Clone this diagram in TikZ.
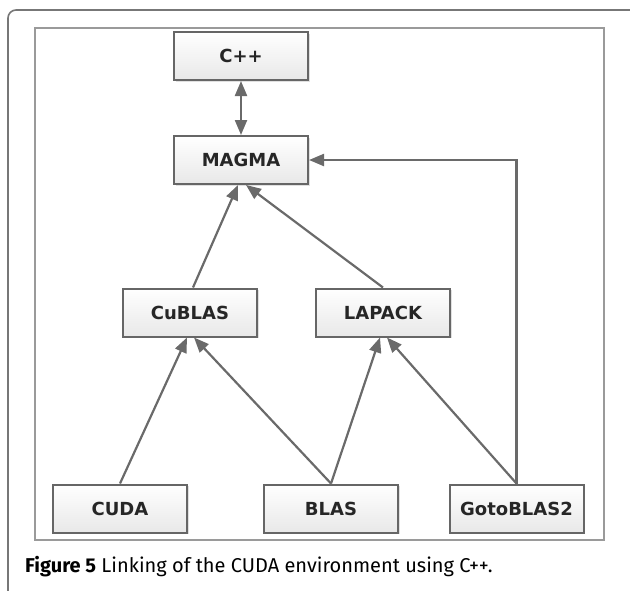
\documentclass[tikz,border=0pt]{standalone}
\usepackage{fontspec}
\setmainfont{DejaVu Sans}
\newfontfamily\capfont{Fira Sans}
\usetikzlibrary{arrows.meta,shadows}
\definecolor{boxline}{HTML}{666666}
\definecolor{arrline}{HTML}{6A6A6A}
\definecolor{frameline}{HTML}{9A9A9A}
\definecolor{outerline}{HTML}{777777}
\definecolor{boxbot}{HTML}{E8E8E8}
\tikzset{
  libbox/.style={draw=boxline, line width=2pt, top color=white, bottom color=boxbot,
    drop shadow={shadow xshift=1.5pt, shadow yshift=-1.5pt, fill=black!20, opacity=0.6},
    minimum width=134pt, minimum height=48pt, inner sep=0pt,
    font=\fontsize{18}{21}\selectfont\bfseries, text=black!85},
  arr/.style={draw=arrline, line width=2.2pt, -{Triangle[length=15pt,width=12pt]}},
  darr/.style={draw=arrline, line width=2.2pt, {Triangle[length=15pt,width=12pt]}-{Triangle[length=15pt,width=12pt]}}
}
\begin{document}
\begin{tikzpicture}[x=1pt,y=-1pt]
\useasboundingbox (0,0) rectangle (630,590);
% outer rounded frame
\draw[outerline, line width=1.6pt, rounded corners=8pt] (8,600) -- (8,10) -- (640,10);
% inner frame
\draw[frameline, line width=1.6pt] (35,28) rectangle (604,540);
% nodes
\node[libbox] (cpp) at (241,56) {C++};
\node[libbox] (magma) at (241,160) {MAGMA};
\node[libbox] (cublas) at (190,312.5) {CuBLAS};
\node[libbox] (lapack) at (383,312.5) {LAPACK};
\node[libbox] (cuda) at (120,508.5) {CUDA};
\node[libbox] (blas) at (331,508.5) {BLAS};
\node[libbox] (goto) at (516.5,508.5) {GotoBLAS2};
\coordinate (corner) at (goto.north |- magma.east);
% connectors
\draw[darr] (cpp.south) -- (magma.north);
\draw[arr] (goto.north) -- (corner) -- (magma.east);
\draw[arr] ([xshift=3pt]cublas.north) -- ([xshift=-3pt]magma.south);
\draw[arr] (lapack.north) -- ([xshift=5pt]magma.south);
\draw[arr] (cuda.north) -- ([xshift=-3pt]cublas.south);
\draw[arr] (blas.north) -- ([xshift=4pt]cublas.south);
\draw[arr] (blas.north) -- ([xshift=-3pt]lapack.south);
\draw[arr] (goto.north) -- ([xshift=4pt]lapack.south);
% caption
\node[anchor=west, inner sep=0pt, font=\capfont\fontsize{20}{24}\selectfont, text=black] (caption) at (25,567)
  {\textbf{Figure 5} Linking of the CUDA environment using C++.};
\end{tikzpicture}
\end{document}
